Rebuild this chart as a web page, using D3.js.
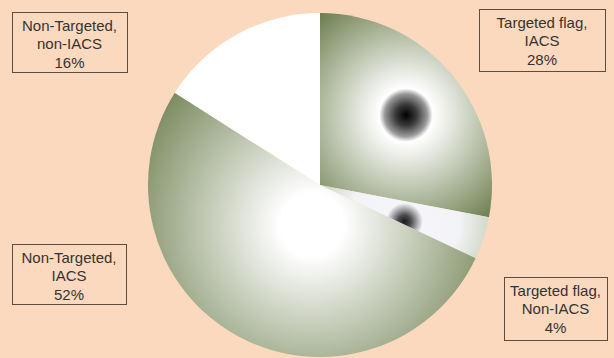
<!DOCTYPE html>
<html>
<head>
<meta charset="utf-8">
<script src="https://cdn.jsdelivr.net/npm/d3@7"></script>
<style>
  html, body { margin: 0; padding: 0; background: #fbd9be; }
  svg { display: block; }
</style>
</head>
<body>
<svg id="chart" width="614" height="358"></svg>
<script>
// ---- data ----
const categories = ["Targeted flag, IACS", "Targeted flag, Non-IACS", "Non-Targeted, IACS", "Non-Targeted, non-IACS"];
const values = [28, 4, 52, 16];
const labelLines = [
  ["Targeted flag,", "IACS", "28%"],
  ["Targeted flag,", "Non-IACS", "4%"],
  ["Non-Targeted,", "IACS", "52%"],
  ["Non-Targeted,", "non-IACS", "16%"]
];

// ---- layout / style ----
const W = 614, H = 358;
const cx = 320, cy = 185, R = 172;
const labelBoxes = [
  { x: 479, y: 9, w: 126, h: 62 },
  { x: 504, y: 277, w: 103, h: 63 },
  { x: 12, y: 244, w: 114, h: 60 },
  { x: 12, y: 12, w: 115, h: 60 }
];
const gradStops = [
  [[0, "#000"], [0.08, "#3a3a3a"], [0.16, "#9a9a9a"], [0.2, "#ffffff"], [1, "#6b7d4c"]],
  [[0, "#1a1a1a"], [0.07, "#4a4a4e"], [0.14, "#a8a8ac"], [0.2, "#f6f6fa"], [0.6, "#f2f3f6"], [1, "#c9d1bd"]],
  [[0, "#ffffff"], [0.15, "#ffffff"], [1, "#6b7d4c"]],
  [[0, "#ffffff"], [1, "#ffffff"]]
];

const svg = d3.select("#chart");
svg.append("rect").attr("width", W).attr("height", H).attr("fill", "#fbd9be");

const pie = d3.pie().sort(null).value(d => d).startAngle(0).endAngle(2 * Math.PI);
const arcs = pie(values);
const arc = d3.arc().innerRadius(0).outerRadius(R);

// bounding box of each slice (relative to centre)
function bbox(a) {
  const pts = [[0, 0]];
  const add = ang => pts.push([Math.sin(ang) * R, -Math.cos(ang) * R]);
  add(a.startAngle); add(a.endAngle);
  for (let k = 0; k <= 4; k++) {
    const ang = k * Math.PI / 2;
    if (ang > a.startAngle && ang < a.endAngle) add(ang);
  }
  const xs = pts.map(p => p[0]), ys = pts.map(p => p[1]);
  return { x0: d3.min(xs), x1: d3.max(xs), y0: d3.min(ys), y1: d3.max(ys) };
}

const defs = svg.append("defs");
arcs.forEach((a, i) => {
  const b = bbox(a);
  const gx = (b.x0 + b.x1) / 2, gy = (b.y0 + b.y1) / 2;
  const gr = Math.hypot((b.x1 - b.x0) / 2, (b.y1 - b.y0) / 2);
  const g = defs.append("radialGradient")
    .attr("id", "g" + i)
    .attr("gradientUnits", "userSpaceOnUse")
    .attr("cx", gx).attr("cy", gy).attr("r", gr)
    .attr("fx", gx).attr("fy", gy);
  gradStops[i].forEach(s => g.append("stop").attr("offset", s[0]).attr("stop-color", s[1]));
});

const gPie = svg.append("g").attr("transform", `translate(${cx},${cy})`);
gPie.selectAll("path.slice")
  .data(arcs)
  .join("path")
  .attr("class", "slice")
  .attr("d", arc)
  .attr("fill", (d, i) => `url(#g${i})`);

// labels
const gLab = svg.append("g");
labelBoxes.forEach((bx, i) => {
  const g = gLab.append("g");
  g.append("rect")
    .attr("x", bx.x + 0.5).attr("y", bx.y + 0.5)
    .attr("width", bx.w).attr("height", bx.h)
    .attr("fill", "#fbd9be")
    .attr("stroke", "#5e4d3f").attr("stroke-width", 1);
  const t = g.append("text")
    .attr("text-anchor", "middle")
    .attr("font-family", "Liberation Sans, Arial, sans-serif")
    .attr("font-size", 15)
    .attr("fill", "#333333");
  labelLines[i].forEach((line, j) => {
    t.append("tspan")
      .attr("x", bx.x + bx.w / 2)
      .attr("y", bx.y + 18.5 + j * 18.5)
      .text(line);
  });
});
</script>
</body>
</html>
